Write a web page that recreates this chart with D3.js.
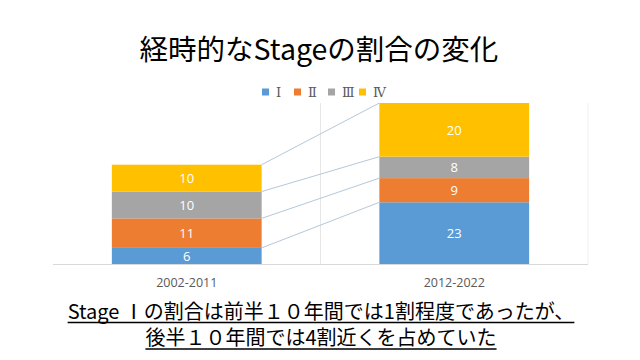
<!DOCTYPE html>
<html><head><meta charset="utf-8">
<script src="https://cdn.jsdelivr.net/npm/d3@7"></script>
<style>html,body{margin:0;padding:0;background:#fff;}svg{display:block;}</style>
</head><body>
<svg id="c" width="640" height="360"></svg>
<script>
const categories = ["2002-2011", "2012-2022"];
const seriesNames = ["Ⅰ", "Ⅱ", "Ⅲ", "Ⅳ"];
const stageI = [6, 23];
const stageII = [11, 9];
const stageIII = [10, 8];
const stageIV = [10, 20];
const colors = ["#5B9BD5", "#ED7D31", "#A5A5A5", "#FFC000"];
const titleText = "経時的なStageの割合の変化";
const noteLines = ["Stage Ⅰの割合は前半１０年間では1割程度であったが、", "後半１０年間では4割近くを占めていた"];

const table = categories.map((c, i) => ({cat: c, "Ⅰ": stageI[i], "Ⅱ": stageII[i], "Ⅲ": stageIII[i], "Ⅳ": stageIV[i]}));
const stacked = d3.stack().keys(seriesNames)(table);

const svg = d3.select("#c");
const jp = "'Noto Sans CJK JP', 'Noto Sans', sans-serif";
const plot = {left: 53, right: 588, top: 103, bottom: 264};

svg.append("text").attr("x", 319).attr("y", 60).attr("text-anchor", "middle")
  .attr("font-family", jp).attr("font-size", 28.5).attr("fill", "#000").text(titleText);

const x = d3.scaleBand().domain(categories).range([plot.left, plot.right]).paddingInner(0).paddingOuter(0);
const y = d3.scaleLinear().domain([0, 60]).range([plot.bottom, plot.top]);
const barW = x.bandwidth() * 0.56;
const bx = c => x(c) + (x.bandwidth() - barW) / 2;

// divider and frame
svg.append("line").attr("x1", x(categories[1])).attr("x2", x(categories[1]))
  .attr("y1", plot.top).attr("y2", plot.bottom).attr("stroke", "#e6e6e6").attr("stroke-width", 1);
svg.append("line").attr("x1", plot.right).attr("x2", plot.right)
  .attr("y1", plot.top).attr("y2", plot.bottom).attr("stroke", "#f0f0f0").attr("stroke-width", 1);

// bars
stacked.forEach((s, si) => {
  svg.append("g").selectAll("rect").data(s).join("rect")
    .attr("x", d => bx(d.data.cat)).attr("width", barW)
    .attr("y", d => y(d[1])).attr("height", d => y(d[0]) - y(d[1]))
    .attr("fill", colors[si]);
  svg.append("g").selectAll("text").data(s).join("text")
    .attr("x", d => bx(d.data.cat) + barW / 2).attr("y", d => (y(d[0]) + y(d[1])) / 2 + 4.8)
    .attr("text-anchor", "middle").attr("font-family", "'Open Sans', 'Noto Sans', sans-serif")
    .attr("font-size", 13).attr("fill", "#fff").text(d => d.data[s.key]);
});

// series lines
stacked.forEach(s => {
  svg.append("line")
    .attr("x1", bx(categories[0]) + barW).attr("y1", y(s[0][1]))
    .attr("x2", bx(categories[1])).attr("y2", y(s[1][1]))
    .attr("stroke", "#b4c8da").attr("stroke-width", 1);
});

// baseline
svg.append("line").attr("x1", plot.left).attr("x2", plot.right)
  .attr("y1", plot.bottom + 0.5).attr("y2", plot.bottom + 0.5).attr("stroke", "#d9d9d9");

// category axis labels
const xAxis = d3.axisBottom(x).tickSize(0).tickPadding(14);
const ax = svg.append("g").attr("transform", `translate(0,${plot.bottom})`).call(xAxis);
ax.select(".domain").remove();
ax.selectAll("text").attr("font-family", "'Open Sans', 'Noto Sans', sans-serif")
  .attr("font-size", 12.5).attr("fill", "#595959");

// legend
const legX = [262, 294, 328, 359];
seriesNames.forEach((n, i) => {
  svg.append("rect").attr("x", legX[i]).attr("y", 88.5).attr("width", 7).attr("height", 7).attr("fill", colors[i]);
  svg.append("text").attr("x", legX[i] + 14).attr("y", 96.5)
    .attr("font-family", "'Liberation Serif', 'DejaVu Serif', serif").attr("font-size", 13).attr("fill", "#595959").text(n);
});

// bottom note with underline
const noteY = [318.5, 345];
noteLines.forEach((t, i) => {
  const tx = svg.append("text").attr("x", 321).attr("y", noteY[i]).attr("text-anchor", "middle")
    .attr("font-family", jp).attr("font-size", 20).attr("fill", "#000").text(t);
  const bb = tx.node().getBBox();
  svg.append("line").attr("x1", bb.x).attr("x2", bb.x + bb.width)
    .attr("y1", noteY[i] + 4).attr("y2", noteY[i] + 4).attr("stroke", "#000").attr("stroke-width", 1.5);
});
</script>
</body></html>
